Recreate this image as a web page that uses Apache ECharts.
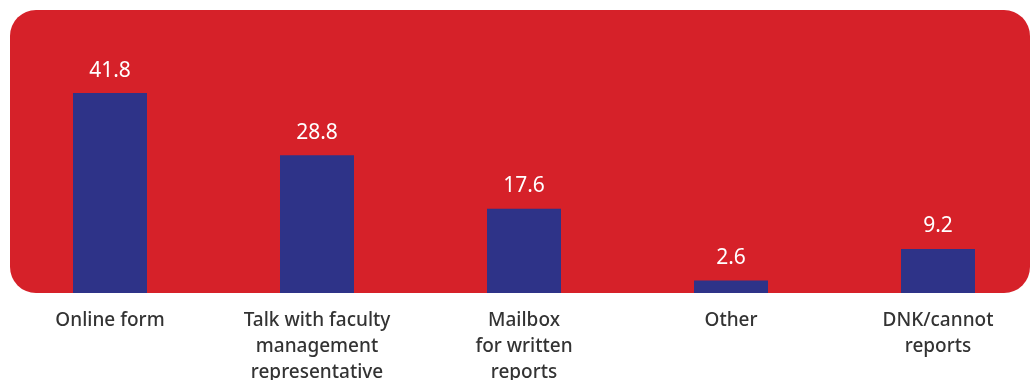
<!DOCTYPE html>
<html>
<head>
<meta charset="utf-8">
<style>
  html, body { margin: 0; padding: 0; background: #ffffff; }
  #chart { width: 1030px; height: 380px; }
</style>
<script src="https://cdn.jsdelivr.net/npm/echarts@6/dist/echarts.min.js"></script>
</head>
<body>
<div id="chart"></div>
<script>
// Reporting channels and share of respondents (%)
const categories = [
  'Online form',
  'Talk with faculty\nmanagement\nrepresentative',
  'Mailbox\nfor written\nreports',
  'Other',
  'DNK/cannot\nreports'
];
const values = [41.8, 28.8, 17.6, 2.6, 9.2];

const chart = echarts.init(document.getElementById('chart'), null, { renderer: 'canvas' });

chart.setOption({
  animation: false,
  backgroundColor: '#ffffff',
  graphic: [{
    type: 'rect',
    z: -10,
    silent: true,
    shape: { x: 10, y: 10, width: 1020, height: 283, r: 26 },
    style: { fill: '#d62129' }
  }],
  grid: {
    left: 6.5, right: -11.5, top: 6, bottom: 87,
    containLabel: false,
    outerBoundsMode: 'none'
  },
  xAxis: {
    type: 'category',
    data: categories,
    axisLine: { show: false },
    axisTick: { show: false },
    axisLabel: {
      interval: 0,
      margin: 15,
      color: '#333333',
      fontFamily: '"Noto Sans", sans-serif',
      fontSize: 19,
      fontWeight: 500,
      lineHeight: 26
    }
  },
  yAxis: {
    type: 'value',
    min: 0,
    max: 60,
    show: false,
    splitLine: { show: false }
  },
  series: [{
    type: 'bar',
    data: values,
    barWidth: 74,
    itemStyle: { color: '#2e3388' },
    label: {
      show: true,
      position: 'top',
      distance: 12,
      color: '#ffffff',
      fontFamily: '"Noto Sans", sans-serif',
      fontSize: 21,
      formatter: p => p.value.toFixed(1)
    }
  }]
});
</script>
</body>
</html>
